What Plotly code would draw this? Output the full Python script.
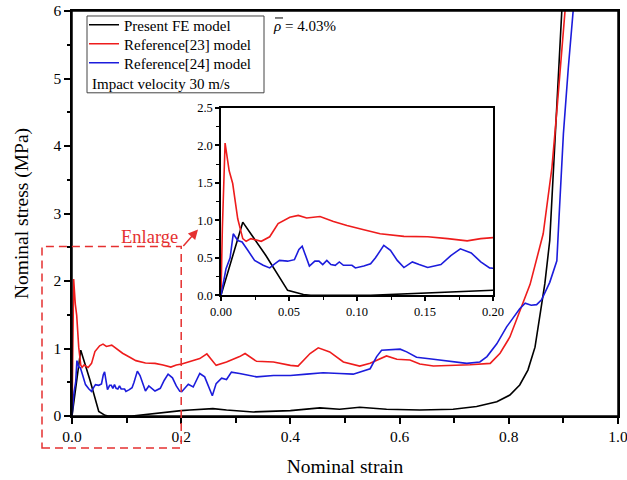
import plotly.graph_objects as go

# ---- data ----
fe_strain = [0, 0.016, 0.033, 0.049, 0.0606, 0.066, 0.11, 0.143, 0.17, 0.2, 0.216, 0.258, 0.283,
             0.332, 0.4, 0.454, 0.49, 0.527, 0.576, 0.637, 0.698, 0.741, 0.778, 0.802, 0.82,
             0.835, 0.848, 0.857, 0.866, 0.875, 0.885, 0.894, 0.899]
fe_stress = [0, 0.975, 0.53, 0.066, 0.01, 0.0, 0.0, 0.03, 0.06, 0.08, 0.09, 0.11, 0.09,
             0.06, 0.08, 0.12, 0.1, 0.13, 0.1, 0.09, 0.1, 0.14, 0.21, 0.31, 0.46,
             0.68, 1.02, 1.47, 1.96, 2.6, 4.18, 5.66, 6.3]

r23_strain = [0, 0.001, 0.003, 0.006, 0.0086, 0.0123, 0.016, 0.0185, 0.022, 0.0296, 0.0358, 0.042,
              0.0506, 0.0568, 0.063, 0.0728, 0.0827, 0.0926, 0.105, 0.117, 0.1345, 0.152, 0.1667,
              0.181, 0.191, 0.201, 0.234, 0.247, 0.264, 0.283, 0.307, 0.317, 0.338, 0.369, 0.4,
              0.414, 0.436, 0.451, 0.472, 0.497, 0.527, 0.546, 0.576, 0.595, 0.619, 0.637, 0.662,
              0.698, 0.729, 0.766, 0.784, 0.802, 0.82, 0.839, 0.863, 0.879, 0.888, 0.897, 0.906]
r23_stress = [0, 0.89, 2.03, 1.66, 1.49, 1.02, 0.755, 0.72, 0.755, 0.72, 0.78, 0.955,
              1.04, 1.065, 1.03, 1.05, 0.985, 0.93, 0.875, 0.82, 0.785, 0.78, 0.755,
              0.725, 0.755, 0.77, 0.85, 0.92, 0.75, 0.8, 0.88, 0.925, 0.81, 0.8, 0.75,
              0.74, 0.925, 1.01, 0.95, 0.8, 0.74, 0.78, 0.89, 0.84, 0.83, 0.77, 0.74,
              0.75, 0.76, 0.78, 0.93, 1.17, 1.54, 1.95, 2.7, 3.68, 4.52, 5.4, 6.3]

r24_strain = [0, 0.0037, 0.0067, 0.009, 0.0123, 0.0155, 0.0197, 0.0247, 0.031, 0.0358, 0.0395, 0.043,
              0.049, 0.054, 0.0573, 0.0597, 0.0617, 0.065, 0.069, 0.072, 0.0748, 0.0778, 0.0808,
              0.084, 0.087, 0.09, 0.0963, 0.0988, 0.105, 0.11, 0.1136, 0.1197, 0.1246, 0.1296,
              0.1345, 0.1407, 0.1457, 0.152, 0.1617, 0.169, 0.176, 0.184, 0.191, 0.1975, 0.201,
              0.213, 0.222, 0.234, 0.243, 0.25, 0.257, 0.264, 0.274, 0.283, 0.292, 0.307, 0.338,
              0.369, 0.4, 0.43, 0.46, 0.49, 0.515, 0.546, 0.558, 0.567, 0.589, 0.601, 0.613,
              0.631, 0.662, 0.698, 0.723, 0.747, 0.76, 0.778, 0.796, 0.805, 0.82, 0.83, 0.841,
              0.851, 0.86, 0.875, 0.888, 0.892, 0.9, 0.909, 0.921]
r24_stress = [0, 0.355, 0.5, 0.82, 0.73, 0.71, 0.6, 0.465, 0.4, 0.365, 0.42, 0.465,
              0.455, 0.475, 0.61, 0.655, 0.555, 0.39, 0.455, 0.455, 0.41, 0.465, 0.41,
              0.4, 0.445, 0.4, 0.4, 0.365, 0.39, 0.42, 0.5, 0.665, 0.6, 0.465,
              0.37, 0.445, 0.41, 0.37, 0.41, 0.53, 0.62, 0.565, 0.445, 0.365, 0.36,
              0.47, 0.43, 0.63, 0.58, 0.43, 0.3, 0.48, 0.56, 0.54, 0.65, 0.63, 0.58,
              0.6, 0.6, 0.62, 0.64, 0.63, 0.62, 0.7, 0.88, 0.975, 0.99, 0.99, 0.95,
              0.87, 0.84, 0.81, 0.78, 0.8, 0.88, 1.07, 1.32, 1.42, 1.59, 1.67, 1.64,
              1.65, 1.72, 1.98, 2.3, 2.94, 4.18, 5.16, 6.3]

series = [
    ("Present FE model", fe_strain, fe_stress, "#000000", "legend"),
    ("Reference[23] model", r23_strain, r23_stress, "#ee1c1c", "legend2"),
    ("Reference[24] model", r24_strain, r24_stress, "#1c1cdc", "legend3"),
]

FONT = "Liberation Serif"
RED = "#e53030"

W, H = 627, 480
PL, PR, PT, PB = 72, 618, 10, 416          # plot area in pixels
PW, PH = PR - PL, PB - PT

def px(xp):
    return (xp - PL) / PW

def py(yp):
    return (PB - yp) / PH

fig = go.Figure()
for name, xs, ys, col, lg in series:
    fig.add_trace(go.Scatter(x=xs, y=ys, mode="lines", name=name, legend=lg,
                             line=dict(color=col, width=1.6), xaxis="x", yaxis="y"))
for name, xs, ys, col, lg in series:
    fig.add_trace(go.Scatter(x=xs, y=ys, mode="lines", name=name, showlegend=False,
                             line=dict(color=col, width=1.6), xaxis="x2", yaxis="y2"))

axis_common = dict(showline=True, linecolor="black", linewidth=1.5, mirror=True,
                   ticks="outside", tickcolor="black", tickwidth=1.5,
                   showgrid=False, zeroline=False, automargin=False,
                   ticklabeloverflow="allow")

def leg(ypix):
    return dict(x=px(84), y=py(ypix), xanchor="left", yanchor="middle",
                bgcolor="rgba(0,0,0,0)", borderwidth=0,
                font=dict(family=FONT, size=15), itemwidth=30)

fig.update_layout(
    width=W, height=H,
    margin=dict(l=PL, r=W - PR, t=PT, b=H - PB),
    paper_bgcolor="white", plot_bgcolor="white",
    font=dict(family=FONT, color="black", size=15),
    xaxis=dict(range=[0, 1], dtick=0.2, tickformat=".1f", ticklen=6,
               minor=dict(dtick=0.1, ticks="outside", ticklen=5, tickcolor="black", tickwidth=1.5),
               title=dict(text="Nominal strain", font=dict(size=19.5), standoff=15),
               tickfont=dict(size=15.5), domain=[0, 1], **axis_common),
    yaxis=dict(range=[0, 6], dtick=1, ticklen=6,
               minor=dict(dtick=0.5, ticks="outside", ticklen=3, tickcolor="black", tickwidth=1.5),
               title=dict(text="Nominal stress (MPa)", font=dict(size=19.5), standoff=20),
               tickfont=dict(size=15.5), domain=[0, 1], **axis_common),
    xaxis2=dict(range=[0, 0.2], dtick=0.05, tickformat=".2f", ticklen=4,
                minor=dict(dtick=0.025, ticks="outside", ticklen=3, tickcolor="black", tickwidth=1.2),
                tickfont=dict(size=12.5), domain=[px(221), px(493)], anchor="y2", **axis_common),
    yaxis2=dict(range=[0, 2.5], dtick=0.5, tickformat=".1f", ticklen=4,
                minor=dict(dtick=0.25, ticks="outside", ticklen=3, tickcolor="black", tickwidth=1.2),
                tickfont=dict(size=12.5), domain=[py(295), py(107)], anchor="x2", **axis_common),
    showlegend=True,
    legend=leg(25), legend2=leg(44), legend3=leg(63),
)

# main frame (top/right edges)
fig.add_shape(type="rect", xref="paper", yref="paper", x0=0, x1=1, y0=0, y1=1,
              line=dict(color="black", width=1.5), fillcolor="rgba(0,0,0,0)", layer="above")

# legend frame
fig.add_shape(type="rect", xref="paper", yref="paper",
              x0=px(87), x1=px(264), y0=py(92), y1=py(15),
              line=dict(color="#444444", width=1), fillcolor="rgba(0,0,0,0)")
fig.add_annotation(text="Impact velocity 30 m/s", xref="paper", yref="paper",
                   x=px(90), y=py(83),
                   xanchor="left", yanchor="middle", showarrow=False, font=dict(size=15))
fig.add_annotation(text="<i>ρ</i> = 4.03%", xref="paper", yref="paper",
                   x=px(271), y=py(25),
                   xanchor="left", yanchor="middle", showarrow=False, font=dict(size=15))
fig.add_shape(type="line", xref="paper", yref="paper",
              x0=px(275), x1=px(283), y0=py(17), y1=py(17), line=dict(color="black", width=1))

# enlarge box
fig.add_shape(type="rect", xref="paper", yref="paper", x0=px(42), x1=0.2, y0=py(448), y1=py(246),
              line=dict(color=RED, width=1.5, dash="8px,5px"), layer="above")
fig.add_annotation(text="Enlarge", xref="paper", yref="paper",
                   x=px(149), y=py(237),
                   xanchor="center", yanchor="middle", showarrow=False,
                   font=dict(size=18.5, color=RED))
fig.add_annotation(text="", xref="paper", yref="paper",
                   x=px(198), y=py(229),
                   ax=-16, ay=18, showarrow=True, arrowhead=2, arrowsize=1.3,
                   arrowwidth=1.5, arrowcolor=RED)

fig.write_html("out.html", config={"displayModeBar": False},
               post_script="document.body.style.margin='0';")
